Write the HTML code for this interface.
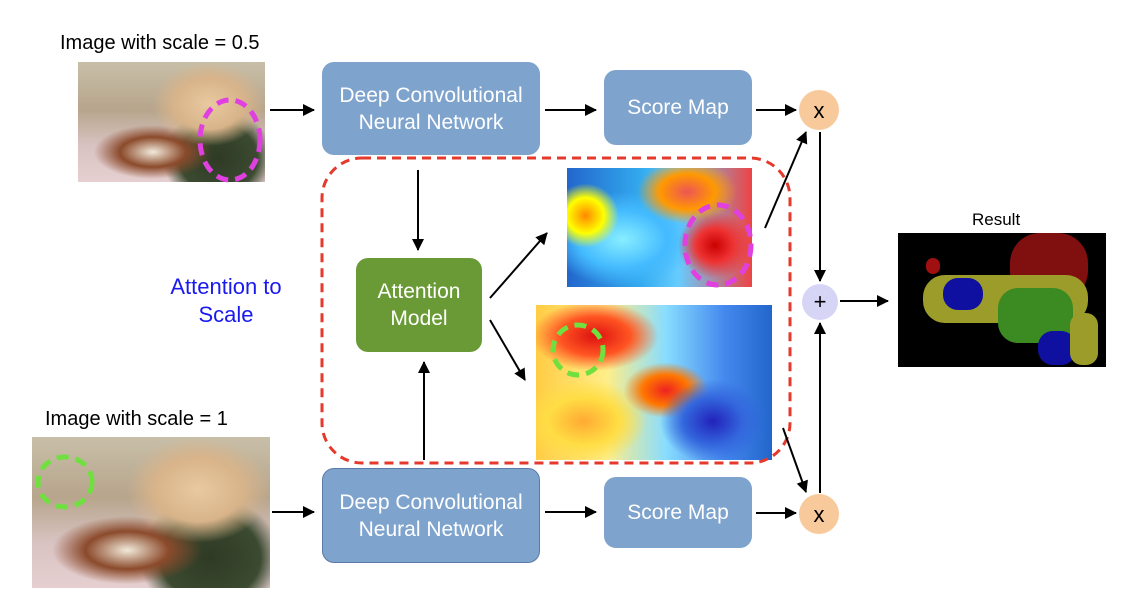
<!DOCTYPE html>
<html><head><meta charset="utf-8"><style>
body{margin:0;width:1138px;height:600px;background:#fff;position:relative;overflow:hidden;font-family:"Liberation Sans",sans-serif}
.a{position:absolute}
.box{position:absolute;background:#7ea3cd;border-radius:12px;color:#fff;font-size:21px;display:flex;align-items:center;justify-content:center;text-align:center;line-height:27px}
.lbl{position:absolute;font-size:20px;color:#000}
.photo{position:absolute;overflow:hidden;background:
radial-gradient(ellipse 30% 35% at 70% 35%,#e8c9a0 0,#d9b48a 60%,transparent 100%),
radial-gradient(ellipse 35% 25% at 40% 75%,#f2eadb 0,#8b4a2b 50%,transparent 90%),
radial-gradient(ellipse 30% 40% at 75% 80%,#2f3a25 0,#3b4a30 70%,transparent 100%),
linear-gradient(180deg,#c8bfa8 0,#b7a58c 40%,#d9c3c2 70%,#e6cfd0 100%)}
.heat{position:absolute;overflow:hidden}
</style></head><body>
<div class="lbl" style="left:60px;top:32px">Image with scale = 0.5</div>
<div class="photo" style="left:78px;top:62px;width:187px;height:120px"></div>
<div class="lbl" style="left:45px;top:408px">Image with scale = 1</div>
<div class="photo" style="left:32px;top:437px;width:238px;height:151px"></div>

<div class="box" style="left:322px;top:62px;width:218px;height:93px">Deep Convolutional<br>Neural Network</div>
<div class="box" style="left:604px;top:70px;width:148px;height:75px">Score Map</div>
<div class="box" style="left:322px;top:468px;width:218px;height:95px;border:1px solid #5a7aa8;box-sizing:border-box">Deep Convolutional<br>Neural Network</div>
<div class="box" style="left:604px;top:477px;width:148px;height:71px">Score Map</div>
<div class="box" style="left:356px;top:258px;width:126px;height:94px;background:#6a9a35">Attention<br>Model</div>

<div class="heat" style="left:567px;top:168px;width:185px;height:119px;background:
radial-gradient(ellipse 25% 35% at 80% 65%,#c00 0,#e33 40%,transparent 80%),
radial-gradient(ellipse 30% 30% at 65% 20%,#e55 0,#f90 50%,transparent 90%),
radial-gradient(ellipse 20% 30% at 10% 40%,#f80 0,#ff0 50%,transparent 90%),
radial-gradient(ellipse 40% 40% at 30% 60%,#8ef 0,#4bf 60%,transparent 100%),
linear-gradient(90deg,#26c,#3ae 40%,#6cf 60%,#e44)"></div>
<div class="heat" style="left:536px;top:305px;width:236px;height:155px;background:
radial-gradient(ellipse 25% 30% at 75% 75%,#22b 0,#36d 50%,transparent 90%),
radial-gradient(ellipse 30% 25% at 25% 20%,#d11 0,#f52 50%,transparent 90%),
radial-gradient(ellipse 20% 20% at 55% 55%,#e22 0,#f70 50%,transparent 90%),
radial-gradient(ellipse 30% 30% at 20% 75%,#fa3 0,#fd4 50%,transparent 90%),
linear-gradient(90deg,#fc4,#fe8 30%,#8df 55%,#48e 80%,#26c)"></div>

<div class="a" style="left:898px;top:233px;width:208px;height:134px;background:#000;overflow:hidden">
<div class="a" style="left:112px;top:0;width:78px;height:72px;background:#801010;border-radius:30px 30px 35px 35px"></div>
<div class="a" style="left:25px;top:42px;width:165px;height:48px;background:#9b9c2a;border-radius:22px"></div>
<div class="a" style="left:100px;top:55px;width:75px;height:55px;background:#3c8a22;border-radius:20px"></div>
<div class="a" style="left:45px;top:45px;width:40px;height:32px;background:#1010a0;border-radius:15px"></div>
<div class="a" style="left:140px;top:98px;width:38px;height:34px;background:#1010a0;border-radius:15px"></div>
<div class="a" style="left:28px;top:25px;width:14px;height:16px;background:#a01010;border-radius:7px"></div>
<div class="a" style="left:172px;top:80px;width:28px;height:52px;background:#9b9c2a;border-radius:12px"></div>
</div>
<div class="lbl" style="left:972px;top:210px;font-size:17px">Result</div>

<div class="a" style="left:160px;top:273px;width:132px;text-align:center;color:#1a1aee;font-size:22px;line-height:28px">Attention to<br>Scale</div>

<svg class="a" style="left:0;top:0" width="1138" height="600">
<defs><marker id="m" markerWidth="12" markerHeight="12" refX="11" refY="6" orient="auto" markerUnits="userSpaceOnUse"><path d="M0,0L12,6L0,12z" fill="#000"/></marker></defs>
<rect x="322" y="158" width="468" height="305" rx="40" fill="none" stroke="#e53a2b" stroke-width="3" stroke-dasharray="9,6"/>
<ellipse cx="230" cy="140" rx="30" ry="40" fill="none" stroke="#e040e0" stroke-width="5" stroke-dasharray="12,7"/>
<ellipse cx="65" cy="482" rx="27" ry="25" fill="none" stroke="#70e040" stroke-width="5" stroke-dasharray="12,7"/>
<ellipse cx="718" cy="245" rx="33" ry="40" fill="none" stroke="#e040e0" stroke-width="5" stroke-dasharray="12,7"/>
<ellipse cx="578" cy="350" rx="25" ry="25" fill="none" stroke="#70e040" stroke-width="5" stroke-dasharray="12,7"/>
<g stroke="#000" stroke-width="2" fill="none" marker-end="url(#m)">
<line x1="270" y1="110" x2="314" y2="110"/>
<line x1="545" y1="110" x2="596" y2="110"/>
<line x1="756" y1="110" x2="796" y2="110"/>
<line x1="272" y1="512" x2="314" y2="512"/>
<line x1="545" y1="512" x2="596" y2="512"/>
<line x1="756" y1="513" x2="796" y2="513"/>
<line x1="418" y1="170" x2="418" y2="250"/>
<line x1="424" y1="460" x2="424" y2="362"/>
<line x1="490" y1="298" x2="547" y2="233"/>
<line x1="490" y1="320" x2="525" y2="380"/>
<line x1="765" y1="228" x2="806" y2="132"/>
<line x1="783" y1="428" x2="806" y2="492"/>
<line x1="820" y1="132" x2="820" y2="281"/>
<line x1="820" y1="493" x2="820" y2="323"/>
<line x1="840" y1="301" x2="888" y2="301"/>
</g>
<circle cx="819" cy="110" r="20" fill="#f8c99b"/>
<circle cx="819" cy="514" r="20" fill="#f8c99b"/>
<circle cx="820" cy="302" r="18" fill="#d7d5f6"/>
<text x="819" y="118" font-size="22" text-anchor="middle" font-family="Liberation Sans">x</text>
<text x="819" y="522" font-size="22" text-anchor="middle" font-family="Liberation Sans">x</text>
<text x="820" y="309" font-size="22" text-anchor="middle" font-family="Liberation Sans">+</text>
</svg>
</body></html>
